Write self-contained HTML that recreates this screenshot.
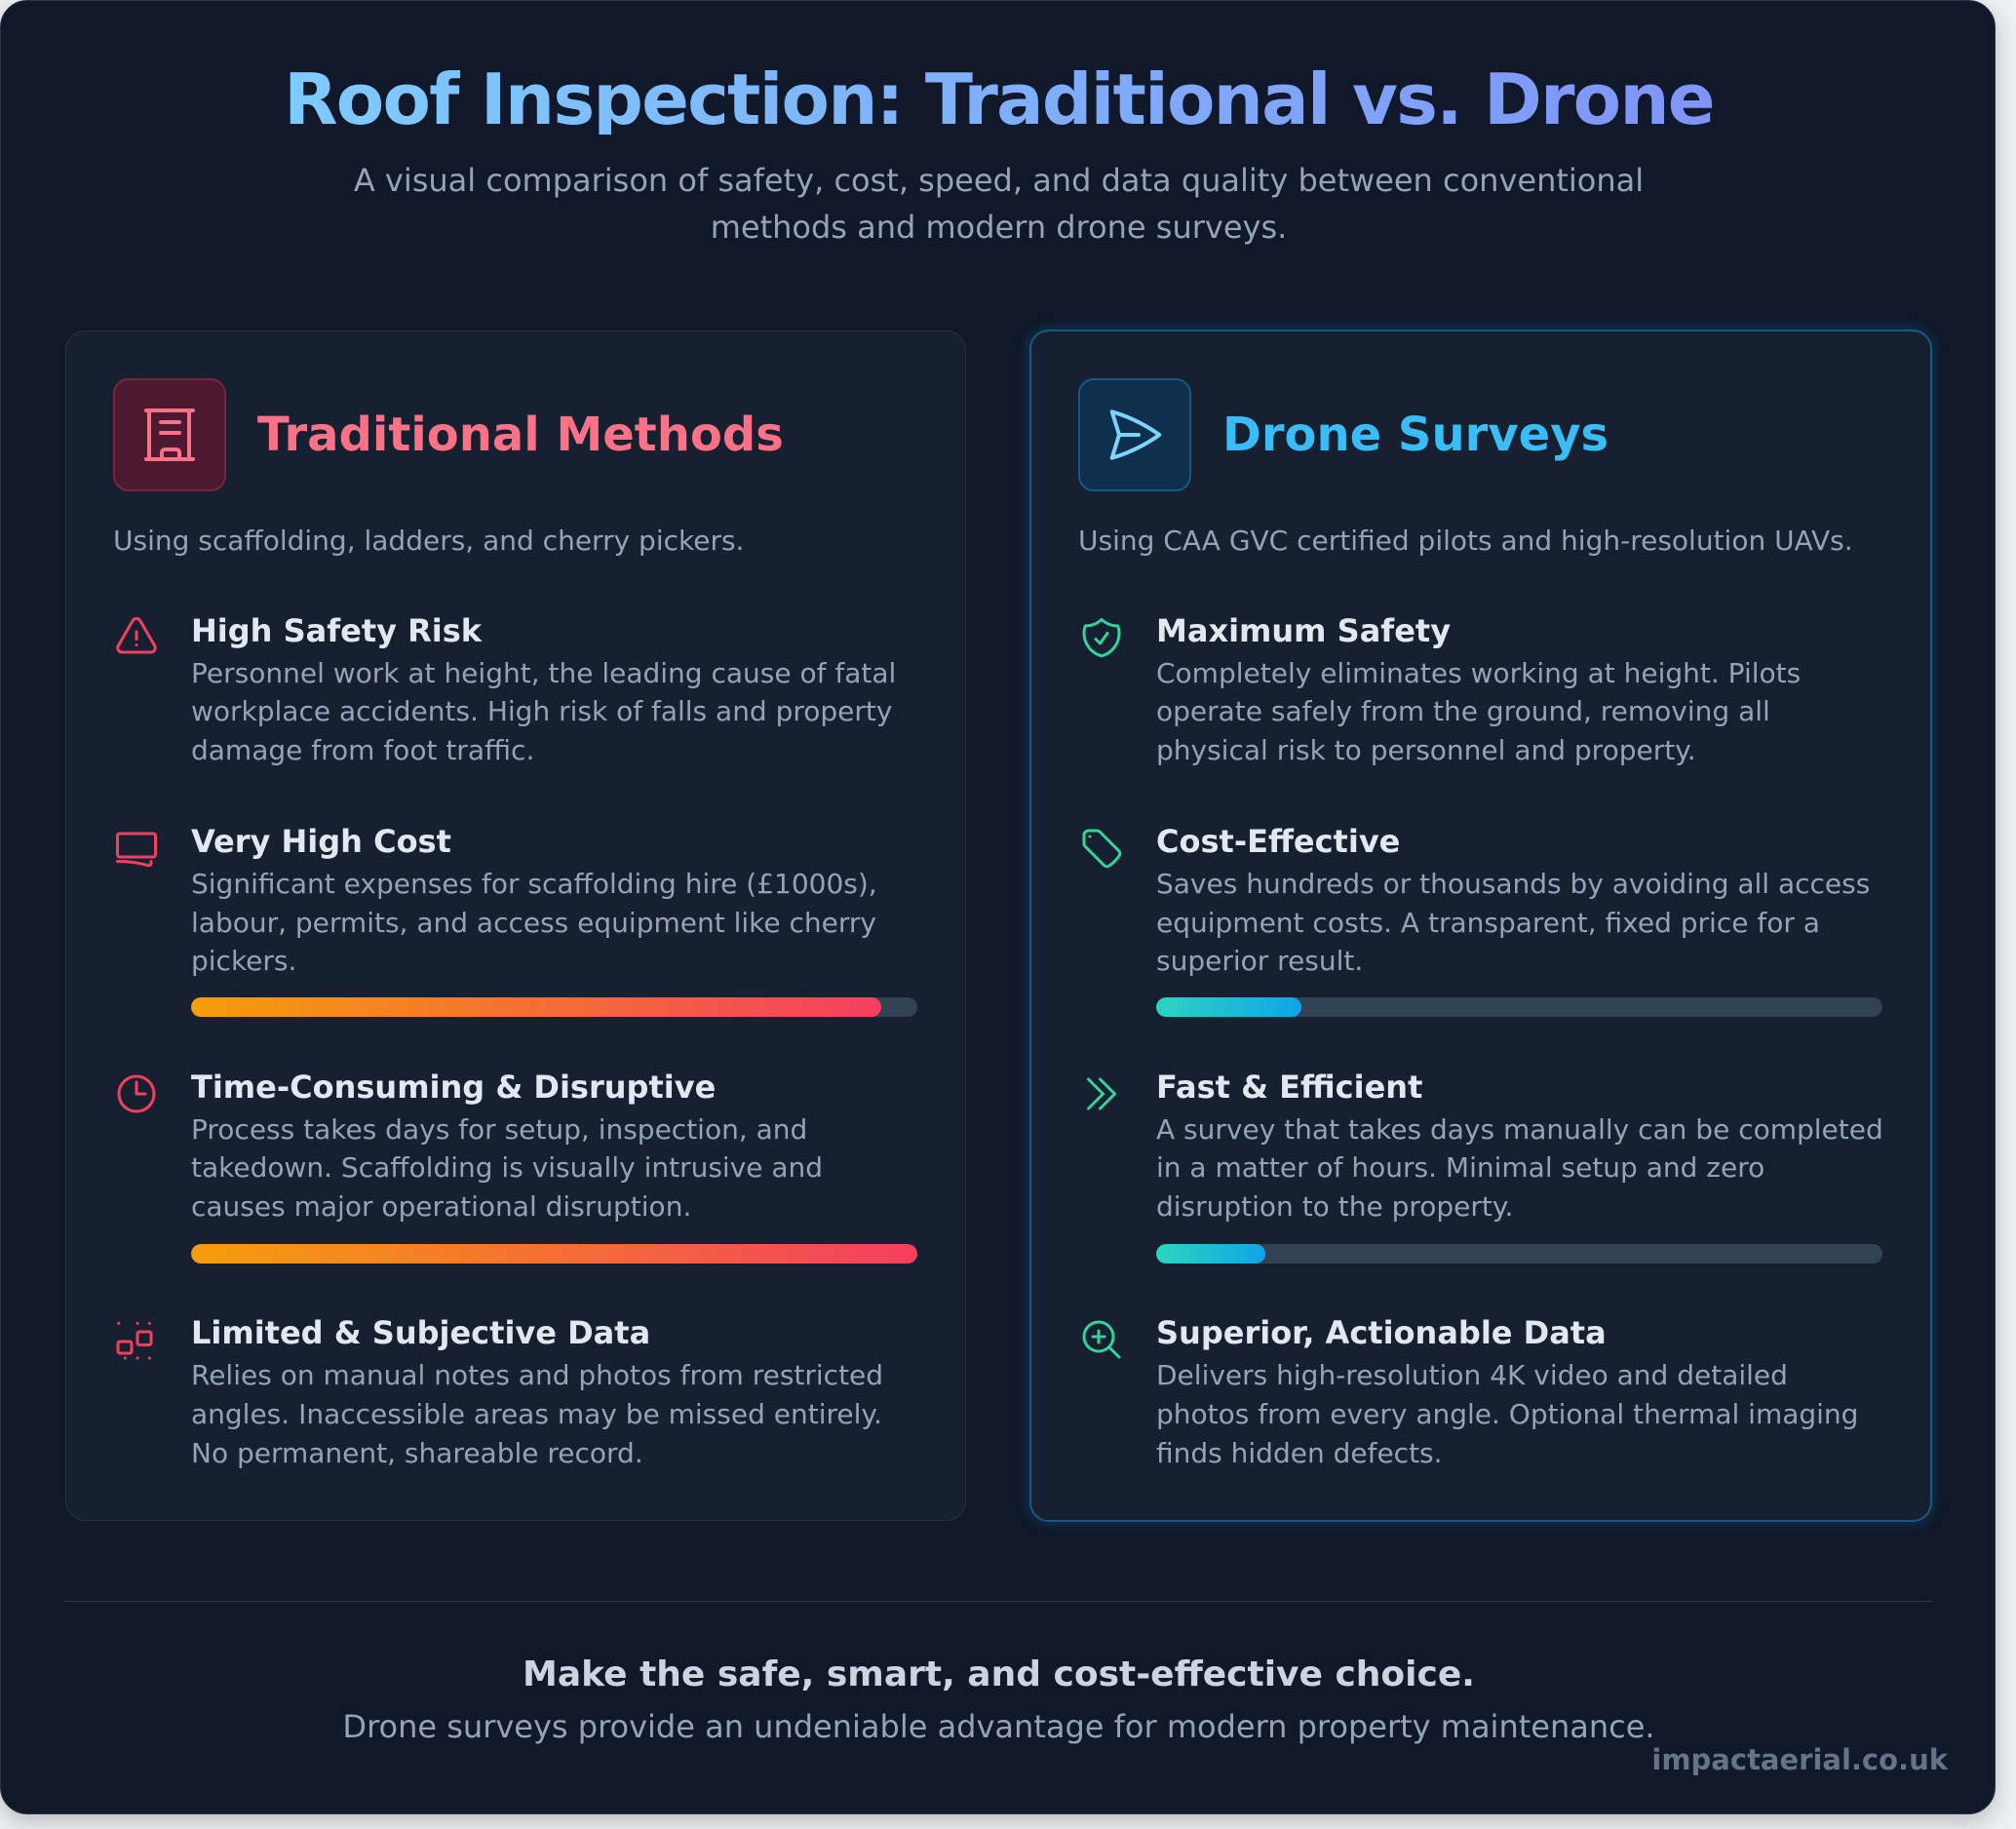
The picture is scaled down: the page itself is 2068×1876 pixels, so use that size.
<!DOCTYPE html>
<html>
<head>
<meta charset="utf-8">
<style>
  html,body{margin:0;padding:0;}
  body{width:2068px;height:1876px;background:#eef0f2;position:relative;overflow:hidden;font-family:"DejaVu Sans","Liberation Sans",sans-serif;}
  .wrap{position:absolute;left:0;top:0;width:2047px;height:1861px;box-sizing:border-box;background:#10182a;border:1px solid #2a3446;border-radius:28px;box-shadow:0 8px 24px rgba(0,0,0,0.22);}
  h1{position:absolute;left:67px;top:66px;width:1915px;margin:0;text-align:center;font-size:72px;line-height:72px;font-weight:bold;letter-spacing:-1.8px;background:linear-gradient(to right,#7dd3fc,#818cf8);-webkit-background-clip:text;background-clip:text;color:transparent;white-space:nowrap;}
  .sub{position:absolute;left:67px;top:161px;width:1915px;margin:0;text-align:center;font-size:32px;line-height:48px;color:#94a3b8;white-space:nowrap;}
  .card{position:absolute;box-sizing:border-box;padding:48px;border-radius:20px;background:#172031;}
  .lc{left:67px;top:339px;width:924px;height:1221px;border:1px solid #283244;}
  .rc{left:1056px;top:338px;width:926px;height:1223px;border:2px solid #175a80;box-shadow:0 0 14px rgba(14,165,233,0.28);}
  .head{display:flex;align-items:center;gap:32px;height:116px;}
  .ibox{width:116px;height:116px;box-sizing:border-box;border-radius:16px;flex:none;position:relative;}
  .lbox{background:#4c1930;border:2px solid #7a2440;}
  .rbox{background:#0e304c;border:2px solid #165a84;}
  .ctitle{font-size:48px;font-weight:bold;line-height:48px;white-space:nowrap;}
  .cdesc{margin-top:31px;font-size:28px;line-height:39.7px;color:#94a3b8;white-space:nowrap;}
  .items{margin-top:52px;}
  .item{display:flex;gap:32px;}
  .ic{width:48px;height:48px;flex:none;margin-top:3px;}
  .txt{width:745px;}
  .it{font-size:32px;font-weight:bold;line-height:40px;margin-bottom:4px;color:#e2e8f0;white-space:nowrap;}
  .id{font-size:28px;line-height:39.7px;color:#94a3b8;white-space:nowrap;}
  .bar{margin-top:17.3px;height:20px;border-radius:10px;background:#334155;width:745px;overflow:hidden;}
  .fill{height:20px;border-radius:10px;}
  .warm{background:linear-gradient(to right,#f59e0b,#f43f5e);}
  .cool{background:linear-gradient(to right,#2dd4bf,#0ea5e9);}
  .m2{margin-top:53.2px;}
  .m3{margin-top:51.2px;}
  .m4{margin-top:51.4px;}
  .hr{position:absolute;left:66px;top:1642px;width:1916px;height:1px;background:#2a3749;}
  .ft{position:absolute;left:67px;top:1696px;width:1915px;text-align:center;font-size:36px;line-height:43.2px;font-weight:bold;color:#cbd5e1;white-space:nowrap;}
  .fs{position:absolute;left:67px;top:1753px;width:1915px;text-align:center;font-size:32px;line-height:36px;color:#94a3b8;white-space:nowrap;}
  .wm{position:absolute;right:70px;top:1788px;font-size:29px;line-height:35px;font-weight:bold;color:#64748b;white-space:nowrap;}
</style>
</head>
<body>
<div class="wrap"></div>

<h1>Roof Inspection: Traditional vs. Drone</h1>
<p class="sub">A visual comparison of safety, cost, speed, and data quality between conventional<br>methods and modern drone surveys.</p>

<!-- LEFT CARD -->
<div class="card lc">
  <div class="head">
    <div class="ibox lbox">
      <svg width="112" height="112" viewBox="1 1 112 112" style="position:absolute;left:0;top:0" fill="none" stroke="#fb7185" stroke-width="4" stroke-linecap="round" stroke-linejoin="round">
        <path d="M33 32H81"/>
        <path d="M33 82H81"/>
        <path d="M36 32V82"/>
        <path d="M77 32V82"/>
        <path d="M48 44H67"/>
        <path d="M48 55H67"/>
        <path d="M49 82V75a3 3 0 0 1 3-3h12a3 3 0 0 1 3 3v7"/>
      </svg>
    </div>
    <div class="ctitle" style="color:#fb7185">Traditional Methods</div>
  </div>
  <div class="cdesc">Using scaffolding, ladders, and cherry pickers.</div>
  <div class="items">
    <div class="item">
      <svg class="ic" viewBox="0 0 24 24" fill="none" stroke="#f43f5e" stroke-width="1.5" stroke-linecap="round" stroke-linejoin="round"><path d="M12 9v3.75m-9.303 3.376c-.866 1.5.217 3.374 1.948 3.374h14.71c1.73 0 2.813-1.874 1.948-3.374L13.949 3.378c-.866-1.5-3.032-1.5-3.898 0L2.697 16.126ZM12 15.750h.007v.008H12v-.008Z"/></svg>
      <div class="txt">
        <div class="it">High Safety Risk</div>
        <div class="id">Personnel work at height, the leading cause of fatal<br>workplace accidents. High risk of falls and property<br>damage from foot traffic.</div>
      </div>
    </div>
    <div class="item m2">
      <svg class="ic" viewBox="0 0 24 24" fill="none" stroke="#f43f5e" stroke-width="1.5" stroke-linecap="round" stroke-linejoin="round"><rect x="2.25" y="4.5" width="19.5" height="12" rx="1.1"/><path d="M2.25 18.75a60.07 60.07 0 0 1 15.797 2.101c.727.198 1.453-.342 1.453-1.096V18.75"/></svg>
      <div class="txt">
        <div class="it">Very High Cost</div>
        <div class="id">Significant expenses for scaffolding hire (£1000s),<br>labour, permits, and access equipment like cherry<br>pickers.</div>
        <div class="bar"><div class="fill warm" style="width:95%"></div></div>
      </div>
    </div>
    <div class="item m3">
      <svg class="ic" viewBox="0 0 24 24" fill="none" stroke="#f43f5e" stroke-width="1.5" stroke-linecap="round" stroke-linejoin="round"><path d="M12 6v6h4.5m4.5 0a9 9 0 1 1-18 0 9 9 0 0 1 18 0Z"/></svg>
      <div class="txt">
        <div class="it">Time-Consuming &amp; Disruptive</div>
        <div class="id">Process takes days for setup, inspection, and<br>takedown. Scaffolding is visually intrusive and<br>causes major operational disruption.</div>
        <div class="bar" style="margin-top:18px"><div class="fill warm" style="width:100%"></div></div>
      </div>
    </div>
    <div class="item m4">
      <svg class="ic" viewBox="0 0 48 48" fill="none" stroke="#f43f5e" stroke-width="3" stroke-linecap="round" stroke-linejoin="round">
        <path d="M5.7 7.4h.1M25 7.4h.1M37.3 7.4h.1M12.3 43h.1M25 43h.1M37.3 43h.1"/>
        <rect x="5" y="26" width="14" height="12" rx="2"/>
        <rect x="25" y="16" width="14" height="13.5" rx="2"/>
      </svg>
      <div class="txt">
        <div class="it">Limited &amp; Subjective Data</div>
        <div class="id">Relies on manual notes and photos from restricted<br>angles. Inaccessible areas may be missed entirely.<br>No permanent, shareable record.</div>
      </div>
    </div>
  </div>
</div>

<!-- RIGHT CARD -->
<div class="card rc">
  <div class="head">
    <div class="ibox rbox">
      <svg width="64" height="64" viewBox="0 0 24 24" style="position:absolute;left:24px;top:24px" fill="none" stroke="#7dd3fc" stroke-width="1.5" stroke-linecap="round" stroke-linejoin="round"><path d="M6 12 3.269 3.125A59.769 59.769 0 0 1 21.485 12 59.768 59.768 0 0 1 3.27 20.875L5.999 12Zm0 0h7.5"/></svg>
    </div>
    <div class="ctitle" style="color:#38bdf8">Drone Surveys</div>
  </div>
  <div class="cdesc">Using CAA GVC certified pilots and high-resolution UAVs.</div>
  <div class="items">
    <div class="item">
      <svg class="ic" viewBox="0 0 24 24" fill="none" stroke="#34d399" stroke-width="1.5" stroke-linecap="round" stroke-linejoin="round"><path d="M9 12.75 11.25 15 15 9.75m-3-7.036A11.959 11.959 0 0 1 3.598 6 11.99 11.99 0 0 0 3 9.749c0 5.592 3.824 10.29 9 11.623 5.176-1.332 9-6.03 9-11.622 0-1.31-.21-2.571-.598-3.751h-.152c-3.196 0-6.1-1.248-8.250-3.285Z"/></svg>
      <div class="txt">
        <div class="it">Maximum Safety</div>
        <div class="id">Completely eliminates working at height. Pilots<br>operate safely from the ground, removing all<br>physical risk to personnel and property.</div>
      </div>
    </div>
    <div class="item m2">
      <svg class="ic" viewBox="0 0 24 24" fill="none" stroke="#34d399" stroke-width="1.5" stroke-linecap="round" stroke-linejoin="round"><path d="M9.568 3H5.25A2.25 2.25 0 0 0 3 5.25v4.318c0 .597.237 1.17.659 1.591l9.581 9.581c.699.699 1.78.872 2.607.33a18.095 18.095 0 0 0 5.223-5.223c.542-.827.369-1.908-.33-2.607L11.16 3.66A2.25 2.25 0 0 0 9.568 3Z"/><path d="M6 6h.008v.008H6V6Z"/></svg>
      <div class="txt">
        <div class="it">Cost-Effective</div>
        <div class="id">Saves hundreds or thousands by avoiding all access<br>equipment costs. A transparent, fixed price for a<br>superior result.</div>
        <div class="bar"><div class="fill cool" style="width:20%"></div></div>
      </div>
    </div>
    <div class="item m3">
      <svg class="ic" viewBox="0 0 24 24" fill="none" stroke="#34d399" stroke-width="1.5" stroke-linecap="round" stroke-linejoin="round"><path d="m5.25 4.5 7.5 7.5-7.5 7.5m6-15 7.5 7.5-7.5 7.5"/></svg>
      <div class="txt">
        <div class="it">Fast &amp; Efficient</div>
        <div class="id">A survey that takes days manually can be completed<br>in a matter of hours. Minimal setup and zero<br>disruption to the property.</div>
        <div class="bar" style="margin-top:18px"><div class="fill cool" style="width:15%"></div></div>
      </div>
    </div>
    <div class="item m4">
      <svg class="ic" viewBox="0 0 24 24" fill="none" stroke="#34d399" stroke-width="1.5" stroke-linecap="round" stroke-linejoin="round"><path d="m21 21-5.197-5.197m0 0A7.5 7.5 0 1 0 5.196 5.196a7.5 7.5 0 0 0 10.607 10.607ZM10.5 7.5v6m3-3h-6"/></svg>
      <div class="txt">
        <div class="it">Superior, Actionable Data</div>
        <div class="id">Delivers high-resolution 4K video and detailed<br>photos from every angle. Optional thermal imaging<br>finds hidden defects.</div>
      </div>
    </div>
  </div>
</div>

<div class="hr"></div>
<div class="ft">Make the safe, smart, and cost-effective choice.</div>
<div class="fs">Drone surveys provide an undeniable advantage for modern property maintenance.</div>
<div class="wm">impactaerial.co.uk</div>
</body>
</html>
